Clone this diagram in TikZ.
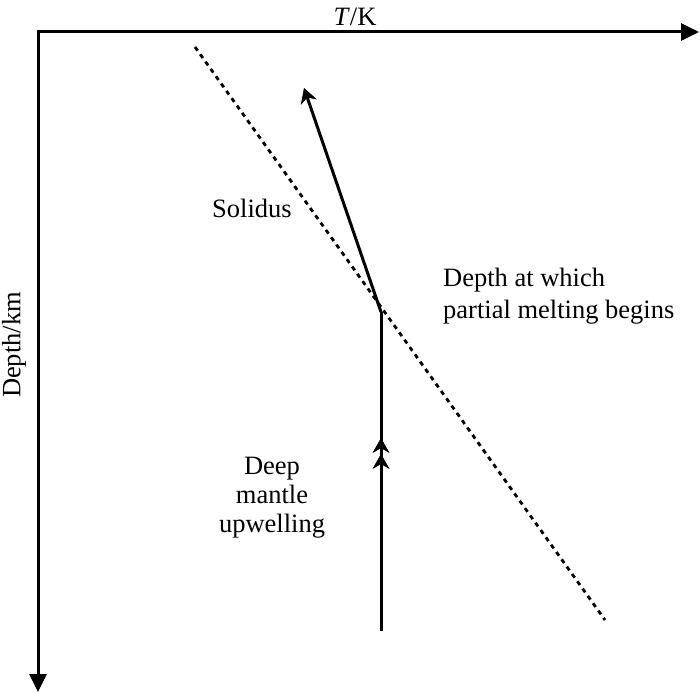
\documentclass[tikz,border=0pt]{standalone}
\usepackage{fontspec}
\setmainfont{Liberation Serif}
\usetikzlibrary{arrows.meta,decorations.markings}
\tikzset{chev/.tip={Stealth[length=15pt,width=17pt,inset=5pt,line width=0.5pt]}}
\begin{document}
\begin{tikzpicture}[x=1pt,y=-1pt,
  axis/.style={line width=3pt,-{Triangle[length=18pt,width=17pt]}},
  pathline/.style={line width=3pt},
  solidusline/.style={line width=2.8pt,dash pattern=on 4.5pt off 4.5pt},
  lbl/.style={font=\fontsize{26.5}{32}\selectfont,inner sep=0pt}]
\useasboundingbox (0,0) rectangle (700,692);
\coordinate (O) at (38,32);
\coordinate (Tend) at (699,32);
\coordinate (Dend) at (38,692);
\draw[axis] ([xshift=-1.5pt]O) -- (Tend);
\draw[axis] (O) -- (Dend);
\node[lbl] (tk) at (355,17) {\textit{T}/K};
\node[lbl,rotate=90] (dk) at (14,345) {Depth/km};
% solidus
\coordinate (s1) at (195,47);
\coordinate (s2) at (605,620);
\draw[solidusline] (s1) -- (s2);
% upwelling path
\coordinate (start) at (381,631);
\coordinate (bend) at (381,312);
\coordinate (tip) at (304,88);
\draw[pathline,decoration={markings,
  mark=at position 0.555 with {\arrow{chev}},
  mark=at position 0.605 with {\arrow{chev}}},postaction={decorate}]
  (start) -- (bend);
\draw[pathline,-{chev}] (bend) -- (tip);
\node[lbl] (sol) at (252,208) {Solidus};
\node[lbl,align=left,anchor=west] (dm) at (443,296) {Depth at which\\partial melting begins};
\node[lbl,align=center,font=\fontsize{26.5}{29}\selectfont] (up) at (272,498) {Deep\\mantle\\upwelling};
\end{tikzpicture}
\end{document}
